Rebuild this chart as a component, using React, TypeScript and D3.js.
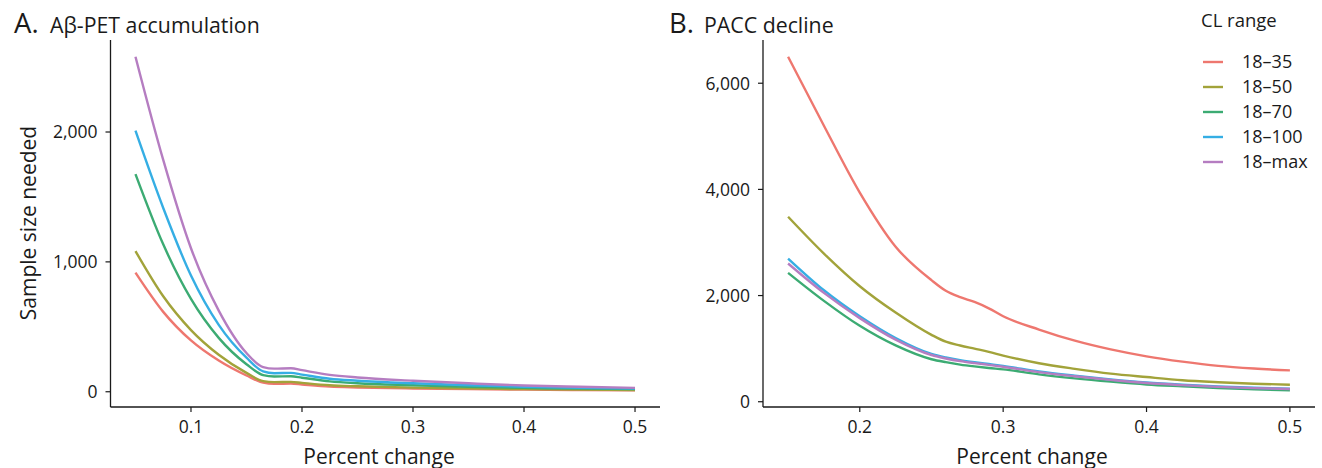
import React from "react";
import * as d3 from "d3";

const seriesNames = ["18–35", "18–50", "18–70", "18–100", "18–max"];
const seriesColors = ["#EE776F", "#A2A33A", "#3CAB73", "#35AEE4", "#B57DC1"];

// Panel A: Aβ-PET accumulation
const pctA = [0.05, 0.075, 0.1, 0.125, 0.15, 0.165, 0.175, 0.19, 0.2, 0.225, 0.25, 0.3, 0.35, 0.4, 0.45, 0.5];
const a18_35 = [917, 615, 395, 240, 125, 70, 61, 63, 56, 40, 33, 25, 20, 16, 13, 11];
const a18_50 = [1083, 735, 475, 285, 145, 82, 74, 76, 68, 50, 42, 32, 26, 20, 16, 13];
const a18_70 = [1676, 1135, 715, 415, 212, 128, 117, 119, 108, 80, 65, 50, 38, 30, 24, 20];
const a18_100 = [2010, 1415, 895, 515, 262, 157, 143, 145, 132, 100, 85, 65, 50, 38, 30, 24];
const a18_max = [2580, 1785, 1105, 625, 298, 190, 178, 181, 166, 130, 110, 85, 65, 48, 38, 30];

// Panel B: PACC decline
const pctB = [0.15, 0.175, 0.2, 0.225, 0.25, 0.26, 0.27, 0.28, 0.29, 0.3, 0.325, 0.35, 0.375, 0.4, 0.425, 0.45, 0.475, 0.5];
const b18_35 = [6500, 5200, 3940, 2920, 2290, 2090, 1970, 1880, 1760, 1610, 1360, 1150, 985, 855, 755, 675, 625, 590];
const b18_50 = [3484, 2790, 2176, 1680, 1260, 1130, 1060, 1000, 940, 870, 725, 620, 530, 465, 405, 368, 340, 320];
const b18_70 = [2428, 1900, 1430, 1060, 800, 745, 700, 665, 635, 610, 515, 440, 378, 325, 290, 258, 235, 215];
const b18_100 = [2698, 2100, 1610, 1200, 900, 835, 785, 745, 710, 675, 570, 490, 420, 362, 320, 286, 262, 245];
const b18_max = [2604, 2050, 1575, 1170, 880, 815, 765, 728, 695, 660, 558, 480, 412, 352, 312, 280, 256, 240];

const ticksAy = [0, 1000, 2000];
const ticksAx = [0.1, 0.2, 0.3, 0.4, 0.5];
const ticksBy = [0, 2000, 4000, 6000];
const ticksBx = [0.2, 0.3, 0.4, 0.5];

const FONT = "'Open Sans', sans-serif";
const TXT = "#1a1a1a";

function expand(ext: [number, number], f = 0.05): [number, number] {
  const r = ext[1] - ext[0];
  return [ext[0] - r * f, ext[1] + r * f];
}

type PanelProps = {
  pct: number[];
  series: number[][];
  x0: number;
  x1: number;
  xTicks: number[];
  yTicks: number[];
};

function Panel({ pct, series, x0, x1, xTicks, yTicks }: PanelProps) {
  const top = 40;
  const bottom = 407;
  const all = series.flat();
  const x = d3.scaleLinear().domain(expand(d3.extent(pct) as [number, number])).range([x0, x1]);
  const y = d3.scaleLinear().domain(expand([d3.min(all)!, d3.max(all)!])).range([bottom, top]);
  const line = d3
    .line<[number, number]>()
    .x((d) => x(d[0]))
    .y((d) => y(d[1]))
    .curve(d3.curveMonotoneX);
  const fmt = d3.format(",");
  const xfmt = d3.format(".1f");
  return (
    <g>
      {series.map((vals, i) => (
        <path
          key={i}
          d={line(pct.map((p, j) => [p, vals[j]] as [number, number])) || ""}
          fill="none"
          stroke={seriesColors[i]}
          strokeWidth={2.4}
          strokeLinejoin="round"
        />
      ))}
      <line x1={x0} x2={x0} y1={top} y2={bottom} stroke="#1a1a1a" strokeWidth={1.3} />
      <line x1={x0} x2={x1} y1={bottom} y2={bottom} stroke="#1a1a1a" strokeWidth={1.3} />
      {yTicks.map((t) => (
        <g key={"y" + t}>
          <line x1={x0 - 5} x2={x0} y1={y(t)} y2={y(t)} stroke="#1a1a1a" strokeWidth={1.2} />
          <text x={x0 - 13} y={y(t)} dy="0.36em" textAnchor="end" fontSize={17.5} fill={TXT} fontFamily={FONT}>
            {fmt(t)}
          </text>
        </g>
      ))}
      {xTicks.map((t) => (
        <g key={"x" + t}>
          <line x1={x(t)} x2={x(t)} y1={bottom} y2={bottom + 5} stroke="#1a1a1a" strokeWidth={1.2} />
          <text x={x(t)} y={433} textAnchor="middle" fontSize={17.5} fill={TXT} fontFamily={FONT}>
            {xfmt(t)}
          </text>
        </g>
      ))}
    </g>
  );
}

export default function App() {
  const seriesA = [a18_35, a18_50, a18_70, a18_100, a18_max];
  const seriesB = [b18_35, b18_50, b18_70, b18_100, b18_max];
  return (
    <svg
      width={1322}
      height={468}
      style={{ position: "absolute", left: 0, top: 0, background: "#fff" }}
      fontFamily={FONT}
    >
      <rect width={1322} height={468} fill="#fff" />
      <text x={14} y={33} fontSize={27.5} fill={TXT}>A.</text>
      <text x={50} y={33} fontSize={21.3} fill={TXT}>Aβ-PET accumulation</text>
      <text x={669} y={33} fontSize={27.5} fill={TXT}>B.</text>
      <text x={704} y={33} fontSize={21.3} fill={TXT}>PACC decline</text>

      <Panel pct={pctA} series={seriesA} x0={110.5} x1={660} xTicks={ticksAx} yTicks={ticksAy} />
      <Panel pct={pctB} series={seriesB} x0={763} x1={1315} xTicks={ticksBx} yTicks={ticksBy} />

      <text
        transform="translate(36,223) rotate(-90)"
        textAnchor="middle"
        fontSize={21}
        fill={TXT}
      >
        Sample size needed
      </text>
      <text x={379} y={464} textAnchor="middle" fontSize={21} fill={TXT}>Percent change</text>
      <text x={1032} y={464} textAnchor="middle" fontSize={21} fill={TXT}>Percent change</text>

      <text x={1201} y={27} fontSize={18.5} fill={TXT}>CL range</text>
      {seriesNames.map((n, i) => (
        <g key={n}>
          <line x1={1203} x2={1223} y1={62 + i * 25} y2={62 + i * 25} stroke={seriesColors[i]} strokeWidth={2.4} />
          <text x={1242} y={62 + i * 25} dy="0.36em" fontSize={18} fill={TXT}>{n}</text>
        </g>
      ))}
    </svg>
  );
}
